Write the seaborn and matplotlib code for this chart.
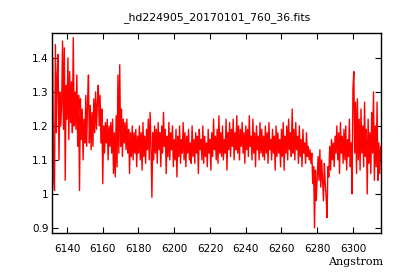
import numpy as np
import pandas as pd
import matplotlib
matplotlib.use("Agg")
import matplotlib.pyplot as plt
import seaborn as sns

title = "_hd224905_20170101_760_36.fits"
xlabel = "Angstrom"
wave_start = 6132.0
wave_step = 0.5

flux_6132 = [1.40, 1.05, 1.01, 1.44, 1.18, 1.35, 1.41, 1.10, 1.30, 1.20,
             1.26, 1.45, 1.19, 1.43, 1.04, 1.32, 1.22, 1.40, 1.16, 1.36]
flux_6142 = [1.21, 1.33, 1.18, 1.46, 1.20, 1.30, 1.19, 1.35, 1.14, 1.29,
             1.01, 1.28, 1.16, 1.25, 1.10, 1.22, 1.15, 1.29, 1.14, 1.27]
flux_6152 = [1.35, 1.15, 1.26, 1.13, 1.24, 1.14, 1.28, 1.18, 1.30, 1.19,
             1.27, 1.32, 1.20, 1.29, 1.15, 1.25, 1.03, 1.20, 1.12, 1.21]
flux_6162 = [1.15, 1.22, 1.10, 1.20, 1.14, 1.21, 1.12, 1.22, 1.06, 1.18,
             1.05, 1.23, 1.08, 1.35, 1.12, 1.38, 1.14, 1.25, 1.11, 1.22]
flux_6172 = [1.15, 1.21, 1.13, 1.22, 1.12, 1.19, 1.06, 1.18, 1.11, 1.20,
             1.10, 1.18, 1.12, 1.19, 1.08, 1.17, 1.12, 1.20, 1.10, 1.18]
flux_6182 = [1.07, 1.21, 1.11, 1.17, 1.09, 1.19, 1.13, 1.22, 1.10, 1.24,
             1.14, 0.99, 1.18, 1.10, 1.20, 1.12, 1.19, 1.09, 1.21, 1.13]
flux_6192 = [1.18, 1.08, 1.20, 1.12, 1.24, 1.14, 1.19, 1.06, 1.17, 1.11,
             1.21, 1.10, 1.18, 1.13, 1.20, 1.08, 1.16, 1.10, 1.19, 1.05]
flux_6202 = [1.17, 1.11, 1.20, 1.09, 1.16, 1.12, 1.21, 1.10, 1.18, 1.08,
             1.17, 1.12, 1.19, 1.10, 1.15, 1.09, 1.20, 1.11, 1.16, 1.09]
flux_6212 = [1.18, 1.12, 1.17, 1.06, 1.19, 1.13, 1.16, 1.10, 1.20, 1.09,
             1.17, 1.11, 1.15, 1.08, 1.19, 1.12, 1.16, 1.07, 1.18, 1.11]
flux_6222 = [1.22, 1.13, 1.17, 1.10, 1.19, 1.09, 1.23, 1.12, 1.18, 1.11,
             1.20, 1.10, 1.16, 1.12, 1.22, 1.07, 1.18, 1.13, 1.21, 1.11]
flux_6232 = [1.19, 1.14, 1.22, 1.10, 1.18, 1.13, 1.23, 1.12, 1.20, 1.10,
             1.19, 1.14, 1.21, 1.12, 1.18, 1.09, 1.20, 1.13, 1.19, 1.11]
flux_6242 = [1.23, 1.14, 1.17, 1.10, 1.22, 1.12, 1.18, 1.08, 1.20, 1.13,
             1.17, 1.10, 1.21, 1.12, 1.19, 1.11, 1.17, 1.10, 1.20, 1.12]
flux_6252 = [1.18, 1.09, 1.21, 1.13, 1.16, 1.10, 1.19, 1.12, 1.17, 1.07,
             1.20, 1.11, 1.18, 1.12, 1.16, 1.08, 1.19, 1.11, 1.21, 1.07]
flux_6262 = [1.17, 1.12, 1.20, 1.10, 1.22, 1.13, 1.18, 1.11, 1.25, 1.12,
             1.19, 1.10, 1.21, 1.13, 1.17, 1.09, 1.20, 1.11, 1.16, 1.08]
flux_6272 = [1.19, 1.12, 1.15, 1.09, 1.18, 1.11, 1.14, 1.10, 1.13, 1.09,
             1.12, 1.03, 1.08, 0.90, 1.07, 0.98, 1.05, 1.11, 1.04, 1.13]
flux_6282 = [1.02, 1.10, 1.04, 0.98, 1.09, 1.03, 0.99, 0.93, 1.08, 1.05,
             1.14, 1.07, 1.16, 1.10, 1.15, 1.08, 1.17, 1.12, 1.20, 1.10]
flux_6292 = [1.18, 1.06, 1.21, 1.12, 1.17, 1.09, 1.19, 1.10, 1.20, 1.07,
             1.16, 1.11, 1.22, 1.08, 1.15, 1.00, 1.31, 1.36, 1.12, 1.27]
flux_6302 = [1.06, 1.28, 1.10, 1.22, 1.07, 1.25, 1.12, 1.20, 1.08, 1.27,
             1.11, 1.19, 1.00, 1.22, 1.09, 1.18, 1.06, 1.24, 1.12, 1.30]
flux_6312 = [1.04, 1.20, 1.08, 1.27, 1.04, 1.15, 1.06, 1.14]

flux = (flux_6132 + flux_6142 + flux_6152 + flux_6162 + flux_6172 + flux_6182
        + flux_6192 + flux_6202 + flux_6212 + flux_6222 + flux_6232 + flux_6242
        + flux_6252 + flux_6262 + flux_6272 + flux_6282 + flux_6292 + flux_6302
        + flux_6312)
wave = wave_start + wave_step * np.arange(len(flux))
df = pd.DataFrame({"wave": wave, "flux": flux})

xticks = [6140, 6160, 6180, 6200, 6220, 6240, 6260, 6280, 6300]
yticks = [0.9, 1.0, 1.1, 1.2, 1.3, 1.4]
ytick_labels = ["0.9", "1", "1.1", "1.2", "1.3", "1.4"]

sns.set_theme(style="white")
plt.rcParams["font.family"] = ["DejaVu Sans"]

fig = plt.figure(figsize=(4.0, 2.8), dpi=100)
ax = fig.add_axes([0.13, 0.168, 0.8225, 0.714])
sns.lineplot(data=df, x="wave", y="flux", ax=ax, color="#ff0000",
             linewidth=1.0, estimator=None, sort=False)
ax.set_xlim(6131.6, 6315.7)
ax.set_ylim(0.885, 1.4735)
ax.set_xticks(xticks)
ax.set_xticklabels([str(t) for t in xticks])
ax.set_yticks(yticks)
ax.set_yticklabels(ytick_labels)
ax.tick_params(direction="in", length=4, width=0.8, color="black",
               top=True, right=True, bottom=True, left=True,
               labelsize=7.5, labelcolor="black")
ax.tick_params(axis="x", pad=8)
ax.tick_params(axis="y", pad=2.5)
for s in ax.spines.values():
    s.set_color("black")
    s.set_linewidth(1.0)
ax.set_xlabel("")
ax.set_ylabel("")
ax.set_title(title, fontsize=7.8, color="black", pad=9)
fig.text(0.958, 0.065, xlabel, ha="right", va="center", fontsize=8,
         family="DejaVu Serif", color="black")
fig.savefig("out.png", dpi=100, facecolor="white")
